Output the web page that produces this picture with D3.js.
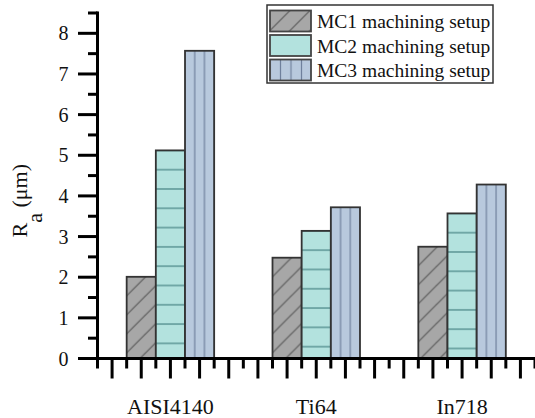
<!DOCTYPE html>
<html>
<head>
<meta charset="utf-8">
<script src="https://cdn.jsdelivr.net/npm/d3@7"></script>
<style>
  html, body { margin: 0; padding: 0; background: #fff; }
  svg { display: block; }
</style>
</head>
<body>
<svg id="chart" width="535" height="418"></svg>
<script>
const categories = ["AISI4140", "Ti64", "In718"];
const seriesNames = ["MC1 machining setup", "MC2 machining setup", "MC3 machining setup"];
const mc1 = [2.01, 2.48, 2.75];
const mc2 = [5.12, 3.14, 3.57];
const mc3 = [7.57, 3.72, 4.28];
const yMajorTicks = [0, 1, 2, 3, 4, 5, 6, 7, 8];
const yMinorTicks = [0.5, 1.5, 2.5, 3.5, 4.5, 5.5, 6.5, 7.5, 8.5];
const xMajorTicks = [0.6, 0.8, 1.0, 1.2, 1.4, 1.6, 1.8, 2.0, 2.2, 2.4, 2.6, 2.8, 3.0, 3.2, 3.4];
const xMinorTicks = [0.5, 0.7, 0.9, 1.1, 1.3, 1.5, 1.7, 1.9, 2.1, 2.3, 2.5, 2.7, 2.9, 3.1, 3.3, 3.5];

const fills = ["#a7a7a7", "#b3e2de", "#b8c9dd"];
const lineCols = ["#5a5a5a", "#4f8a8a", "#6f809c"];
const FONT = "'Liberation Serif', 'Noto Serif', 'Noto Serif CJK SC', 'Noto Serif CJK JP', FreeSerif, 'Nimbus Roman', 'Nimbus Roman No9 L', Tinos, Times, 'DejaVu Serif', serif";

const svg = d3.select("#chart");
const defs = svg.append("defs");

const x = d3.scaleLinear().domain([0.5, 3.5]).range([97.5, 535]);
const y = d3.scaleLinear().domain([0, 8.5]).range([358.5, 13]);
const barW = 0.2;

const seriesVals = [mc1, mc2, mc3];
const bars = [];
seriesVals.forEach((vals, s) => {
  vals.forEach((v, c) => {
    const center = c + 1;
    const x0 = center + (s - 1) * barW - barW / 2;
    bars.push({ s, c, v, x0, x1: x0 + barW });
  });
});

function makePattern(id, s, px, py, legend) {
  const p = defs.append("pattern").attr("id", id).attr("patternUnits", "userSpaceOnUse");
  if (s === 0) {
    const t = legend ? 20 : 19;
    p.attr("x", px).attr("y", py).attr("width", t).attr("height", t);
    p.append("rect").attr("width", t).attr("height", t).attr("fill", fills[0]);
    p.append("line").attr("x1", 0).attr("y1", t).attr("x2", t).attr("y2", 0)
      .attr("stroke", lineCols[0]).attr("stroke-width", 1.2);
    p.append("line").attr("x1", -1).attr("y1", 1).attr("x2", 1).attr("y2", -1)
      .attr("stroke", lineCols[0]).attr("stroke-width", 1.2);
    p.append("line").attr("x1", t - 1).attr("y1", t + 1).attr("x2", t + 1).attr("y2", t - 1)
      .attr("stroke", lineCols[0]).attr("stroke-width", 1.2);
  } else if (s === 1) {
    const h = legend ? 60 : 19.3;
    p.attr("x", px).attr("y", py - h / 2).attr("width", 10).attr("height", h);
    p.append("rect").attr("width", 10).attr("height", h).attr("fill", fills[1]);
    if (!legend) {
      p.append("line").attr("x1", 0).attr("y1", h / 2).attr("x2", 10).attr("y2", h / 2)
        .attr("stroke", lineCols[1]).attr("stroke-width", 1.3);
    }
  } else {
    const w = legend ? 10.5 : (x(barW) - x(0)) / 3;
    p.attr("x", px - w / 2).attr("y", py).attr("width", w).attr("height", 10);
    p.append("rect").attr("width", w).attr("height", 10).attr("fill", fills[2]);
    p.append("line").attr("x1", w / 2).attr("y1", 0).attr("x2", w / 2).attr("y2", 10)
      .attr("stroke", lineCols[2]).attr("stroke-width", 1.2);
  }
}

bars.forEach((b, i) => {
  makePattern("pb" + i, b.s, x(b.x0), y(b.v), false);
});

svg.append("g").selectAll("rect").data(bars).join("rect")
  .attr("x", d => x(d.x0))
  .attr("y", d => y(d.v))
  .attr("width", d => x(d.x1) - x(d.x0))
  .attr("height", d => y(0) - y(d.v))
  .attr("fill", (d, i) => "url(#pb" + i + ")")
  .attr("stroke", "#333")
  .attr("stroke-width", 1.8);

// Y axis
const gy = svg.append("g").attr("transform", "translate(" + x(0.5) + ",0)");
gy.append("line").attr("x1", 0).attr("x2", 0).attr("y1", y(8.5) - 1.5).attr("y2", y(0))
  .attr("stroke", "#000").attr("stroke-width", 3);
gy.selectAll(".ymaj").data(yMajorTicks).join("line")
  .attr("x1", -19.5).attr("x2", 0).attr("y1", d => y(d)).attr("y2", d => y(d))
  .attr("stroke", "#000").attr("stroke-width", 3);
gy.selectAll(".ymin").data(yMinorTicks).join("line")
  .attr("x1", -9.5).attr("x2", 0).attr("y1", d => y(d)).attr("y2", d => y(d))
  .attr("stroke", "#000").attr("stroke-width", 3);
gy.selectAll(".ylab").data(yMajorTicks).join("text")
  .attr("x", -29).attr("y", d => y(d)).attr("dy", "0.35em")
  .attr("text-anchor", "end").attr("font-size", 20)
  .style("font-family", FONT).attr("fill", "#111")
  .text(d => d);

// X axis
const gx = svg.append("g").attr("transform", "translate(0," + y(0) + ")");
gx.append("line").attr("x1", x(0.5) - 1.5).attr("x2", x(3.5)).attr("y1", 0).attr("y2", 0)
  .attr("stroke", "#000").attr("stroke-width", 3);
gx.selectAll(".xmaj").data(xMajorTicks).join("line")
  .attr("x1", d => x(d)).attr("x2", d => x(d)).attr("y1", 0).attr("y2", 20)
  .attr("stroke", "#000").attr("stroke-width", 3);
gx.selectAll(".xmin").data(xMinorTicks).join("line")
  .attr("x1", d => x(d)).attr("x2", d => x(d)).attr("y1", 0).attr("y2", 10)
  .attr("stroke", "#000").attr("stroke-width", 3);
gx.selectAll(".xlab").data(categories).join("text")
  .attr("x", (d, i) => x(i + 1)).attr("y", 55)
  .attr("text-anchor", "middle").attr("font-size", 22)
  .style("font-family", FONT).attr("fill", "#111")
  .text(d => d);

// Y title
const yt = svg.append("text")
  .attr("transform", "translate(27,237.5) rotate(-90)")
  .attr("font-size", 22).style("font-family", FONT).attr("fill", "#111");
yt.append("tspan").text("R");
yt.append("tspan").attr("dy", 15).text("a");
yt.append("tspan").attr("dy", -15).text(" (\u03bcm)");

// Legend
const lg = svg.append("g");
lg.append("rect").attr("x", 267).attr("y", 5).attr("width", 226).attr("height", 78)
  .attr("fill", "#fff").attr("stroke", "#333").attr("stroke-width", 1.5);
seriesNames.forEach((name, s) => {
  const sy = 10.5 + s * 24.5;
  makePattern("pl" + s, s, 270, sy, true);
  lg.append("rect").attr("x", 270).attr("y", sy).attr("width", 41).attr("height", 21)
    .attr("fill", "url(#pl" + s + ")").attr("stroke", "#444").attr("stroke-width", 1.8);
  lg.append("text").attr("x", 317).attr("y", sy + 17.5).attr("font-size", 19.5)
    .style("font-family", FONT).attr("fill", "#111").text(name);
});
</script>
</body>
</html>
